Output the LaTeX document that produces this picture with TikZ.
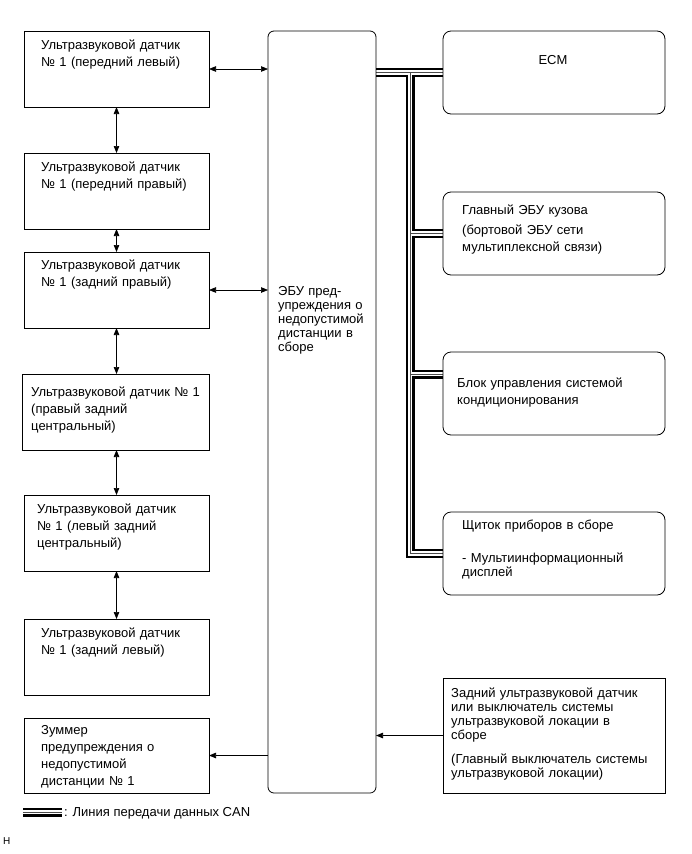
\documentclass[tikz,border=0pt]{standalone}
\usepackage{fontspec}
\setmainfont{Liberation Sans}
\usetikzlibrary{arrows.meta,calc}
\pgfdeclarelayer{bg}
\pgfsetlayers{bg,main}
\begin{document}
\begin{tikzpicture}[x=1pt,y=-1pt,
  box/.style={draw, line width=0.8pt, inner sep=0pt, outer sep=0pt, anchor=north west},
  lbox/.style={box, minimum width=185pt, minimum height=76pt},
  rbox/.style={box, rounded corners=8pt, minimum width=222pt, minimum height=83pt},
  txt/.style={anchor=base west, inner sep=0pt, text width=230pt, align=left,
              font=\fontsize{13}{17}\selectfont},
  txtr/.style={txt, font=\fontsize{13}{14}\selectfont},
  tip/.tip={Triangle[length=7pt,width=5.5pt]},
  biarr/.style={line width=0.7pt, tip-tip},
  arr/.style={line width=0.7pt, -tip},
  canA/.style={line width=9pt, black},
  canB/.style={line width=4.6pt, white},
  canC/.style={line width=0.6pt, black!70},
]
\useasboundingbox (0,0) rectangle (691,854);

% left column
\node[lbox] (s1) at (24,31) {};
\node[txt] (s1t) at (41,49) {Ультразвуковой датчик\\№ 1 (передний левый)};
\node[lbox] (s2) at (24,153) {};
\node[txt] (s2t) at (41,171) {Ультразвуковой датчик\\№ 1 (передний правый)};
\node[lbox] (s3) at (24,252) {};
\node[txt] (s3t) at (41,269) {Ультразвуковой датчик\\№ 1 (задний правый)};
\node[lbox, minimum width=187pt] (s4) at (22,374) {};
\node[txt] (s4t) at (31,396) {Ультразвуковой датчик № 1\\(правый задний\\центральный)};
\node[lbox] (s5) at (24,495) {};
\node[txt] (s5t) at (37,513) {Ультразвуковой датчик\\№ 1 (левый задний\\центральный)};
\node[lbox] (s6) at (24,619) {};
\node[txt] (s6t) at (41,637) {Ультразвуковой датчик\\№ 1 (задний левый)};
\node[lbox, minimum height=75pt] (s7) at (24,718) {};
\node[txt] (s7t) at (41,734) {Зуммер\\предупреждения о\\недопустимой\\дистанции № 1};

% ECU
\node[box, rounded corners=6pt, minimum width=108pt, minimum height=762pt] (ecu) at (268,31) {};
\node[txtr] (ecut) at (278,295) {ЭБУ пред-\\упреждения о\\недопустимой\\дистанции в\\сборе};

% right column
\node[rbox] (ecm) at (443,31) {};
\node[anchor=base, inner sep=0pt, font=\fontsize{13}{14}\selectfont] (ecmt) at (553,64) {ECM};
\node[rbox] (gb) at (443,192) {};
\node[txt] (gbt) at (462,214) {Главный ЭБУ кузова\\[3pt](бортовой ЭБУ сети\\мультиплексной связи)};
\node[rbox] (bl) at (443,352) {};
\node[txt] (blt) at (457,387) {Блок управления системой\\кондиционирования};
\node[rbox] (sh) at (443,512) {};
\node[txtr] (sht) at (462,529) {Щиток приборов в сборе\\[19pt]- Мультиинформационный\\дисплей};
\node[box, minimum width=222pt, minimum height=115pt] (rz) at (443,678) {};
\node[txtr] (rzt) at (451,697) {Задний ультразвуковой датчик\\или выключатель системы\\ультразвуковой локации в\\сборе\\[10pt](Главный выключатель системы\\ультразвуковой локации)};

% arrows
\draw[biarr] (s1.east) -- (s1.east -| ecu.west);
\draw[biarr] (s3.east) -- (s3.east -| ecu.west);
\draw[biarr] (s1.south) -- (s1.south |- s2.north);
\draw[biarr] (s2.south) -- (s2.south |- s3.north);
\draw[biarr] (s3.south) -- (s3.south |- s4.north);
\draw[biarr] (s4.south -| s3.south) -- (s3.south |- s5.north);
\draw[biarr] (s5.south) -- (s5.south |- s6.north);
\draw[arr] (ecu.west |- s7.east) -- (s7.east);
\draw[arr] (rz.west) -- (rz.west -| ecu.east);

% CAN bus
\coordinate (tr) at (410,0);
\coordinate (blj) at (0,374);
\coordinate (lg1) at (23,812);
\coordinate (lg2) at (62,812);
\def\canpath{(ecu.east |- ecm.west) -- (ecm.west)
  (tr |- ecm.west) -- (tr |- sh.west) -- (sh.west)
  (tr |- gb.west) -- (gb.west)
  (tr |- blj) -- (bl.west |- blj)}
\begin{pgfonlayer}{bg}
\fill[white] (0,0) rectangle (691,854);
\draw[canA] \canpath;
\draw[canB] \canpath;
\draw[canC] \canpath;
\end{pgfonlayer}
\draw[canA] (lg1) -- (lg2);
\draw[canB] (lg1) -- (lg2);
\draw[canC] (lg1) -- (lg2);
\node[anchor=base west, inner sep=0pt, font=\fontsize{13}{14}\selectfont] (lgt) at (64,816) {: Линия передачи данных CAN};
\node[anchor=base west, inner sep=0pt, font=\fontsize{10}{12}\selectfont] (hh) at (3,844) {H};
\end{tikzpicture}
\end{document}
